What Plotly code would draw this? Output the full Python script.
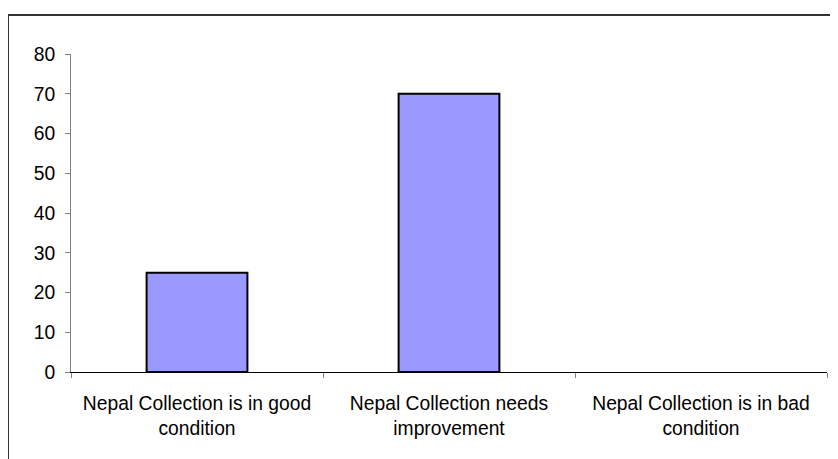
import plotly.graph_objects as go

categories = [
    "Nepal Collection is in good<br>condition",
    "Nepal Collection needs<br>improvement",
    "Nepal Collection is in bad<br>condition",
]
values = [25, 70, 0]
y_ticks = [0, 10, 20, 30, 40, 50, 60, 70, 80]

# page has an 8px body margin, so the figure is drawn 8px in from the window edge
OFF = 8
W, H = 838 - OFF, 459 - OFF
ml, mt = 71 - OFF, 54 - OFF
mr = W - (827 - OFF)
mb = H - (372 - OFF)
pw = W - ml - mr
ph = H - mt - mb

fig = go.Figure(
    go.Bar(
        x=categories,
        y=values,
        marker=dict(color="#9999FF",
                    line=dict(color="black", width=[2 if v > 0 else 0 for v in values])),
        hoverinfo="x+y",
    )
)

def px_to_paper_x(px):
    return (px - OFF - ml) / pw

def px_to_paper_y(py):
    return (H - mb - (py - OFF)) / ph

frame_color = "#333333"
fig.add_shape(type="line", xref="paper", yref="paper",
              x0=px_to_paper_x(8), x1=px_to_paper_x(880),
              y0=px_to_paper_y(15), y1=px_to_paper_y(15),
              line=dict(color=frame_color, width=2))
fig.add_shape(type="line", xref="paper", yref="paper",
              x0=px_to_paper_x(8), x1=px_to_paper_x(8),
              y0=px_to_paper_y(15), y1=px_to_paper_y(500),
              line=dict(color=frame_color, width=2))

fig.update_layout(
    width=W, height=H,
    margin=dict(l=ml, r=mr, t=mt, b=mb, pad=0),
    paper_bgcolor="white", plot_bgcolor="white",
    font=dict(family="Liberation Sans, Arial, sans-serif", size=19.3, color="black"),
    bargap=0.6,
    showlegend=False,
    xaxis=dict(
        showgrid=False, zeroline=False,
        showline=True, linecolor="black", linewidth=1,
        ticks="outside", ticklen=5, tickcolor="#808080",
        tickson="boundaries",
        ticklabelstandoff=14,
        tickangle=0,
    ),
    yaxis=dict(
        range=[0, 80], tickvals=y_ticks, showgrid=False, zeroline=False,
        showline=True, linecolor="#808080", linewidth=1,
        ticks="outside", ticklen=5, tickcolor="#808080",
        ticklabelstandoff=6,
    ),
)

fig.write_html("out.html")
